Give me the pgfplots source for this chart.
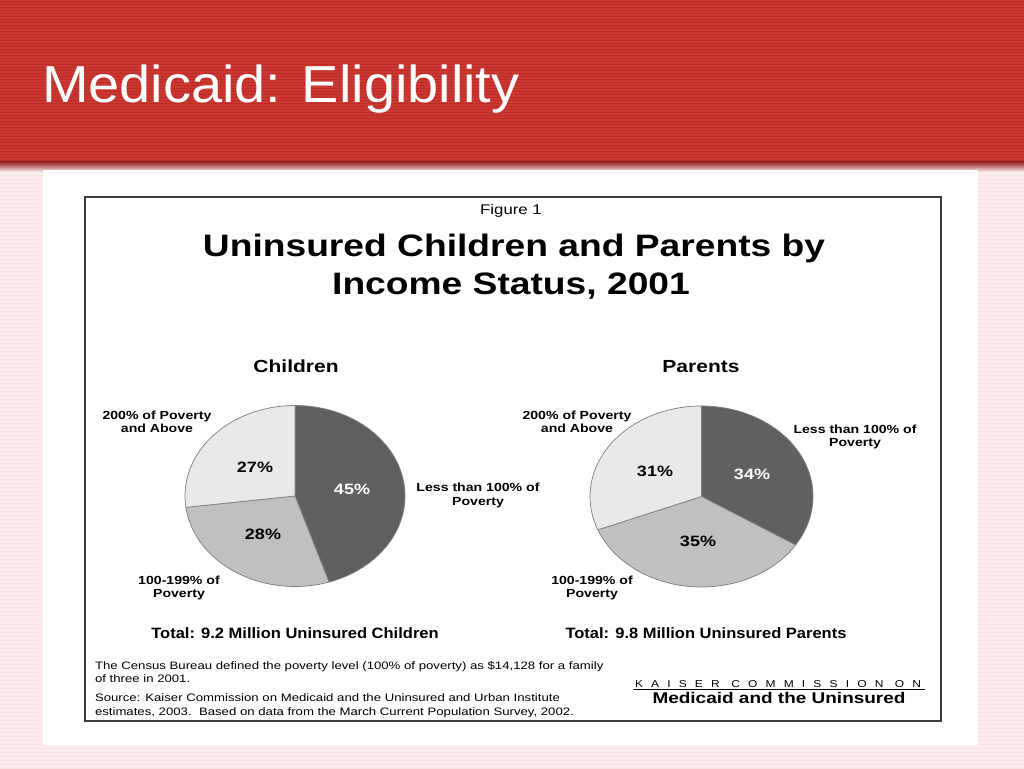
\documentclass[border=0pt]{standalone}
\usepackage{fontspec}
\setmainfont{Liberation Sans}
\usepackage{pgfplots}
\usepackage{pgfplotstable}
\pgfplotsset{compat=1.18}

\definecolor{hdr}{RGB}{203,56,50}
\definecolor{hdrline}{RGB}{188,45,40}
\definecolor{bgpink}{RGB}{252,236,236}
\definecolor{bgline}{RGB}{248,226,226}
\definecolor{piedark}{RGB}{96,96,96}
\definecolor{piemid}{RGB}{192,192,192}
\definecolor{pielight}{RGB}{233,233,233}
\definecolor{pieedge}{RGB}{125,125,125}
\definecolor{boxline}{RGB}{60,60,60}

% shares (percent), clockwise from 12 o'clock
\pgfplotstableread{
group share
Less 45
Mid 28
High 27
}\childdata
\pgfplotstableread{
group share
Less 34
Mid 35
High 31
}\parentdata

\newcommand\buildpie[4]{% #1 table, #2 output macro, #3 x radius, #4 y radius
  \gdef\cum{0}\gdef#2{}%
  \pgfplotstableforeachcolumnelement{share}\of#1\as\val{%
    \pgfmathsetmacro\sa{90-3.6*\cum}%
    \pgfmathsetmacro\ea{90-3.6*(\cum+\val)}%
    \pgfmathsetmacro\sx{cos(\sa)}\pgfmathsetmacro\sy{sin(\sa)}%
    \ifcase\pgfplotstablerow\relax \def\col{piedark}\or\def\col{piemid}\else\def\col{pielight}\fi
    \xdef#2{\unexpanded\expandafter{#2}\noexpand\filldraw[fill=\col,draw=pieedge,line width=0.7pt,line join=round] (axis cs:0,0) -- (axis cs:\sx,\sy) arc[start angle=\sa,end angle=\ea,x radius=#3,y radius=#4] -- cycle;}%
    \pgfmathsetmacro\nc{\cum+\val}\xdef\cum{\nc}%
  }%
}

\tikzset{t/.style={anchor=base,inner sep=0pt,outer sep=0pt,xscale=1.2},
         tl/.style={t,anchor=base west}}

\begin{document}
\buildpie{\childdata}{\childpie}{110pt}{90.5pt}%
\buildpie{\parentdata}{\parentpie}{111.5pt}{90.5pt}%
\begin{tikzpicture}[x=1pt,y=1pt]
\useasboundingbox (0,0) rectangle (1024,768);
% background
\fill[bgpink] (0,0) rectangle (1024,768);
\foreach \i in {0,4,...,600} \draw[bgline,line width=1pt] (0,\i) -- (1024,\i);
% header
\fill[hdr] (0,605) rectangle (1024,768);
\foreach \i in {607,610,...,767} \draw[hdrline,line width=1pt] (0,\i) -- (1024,\i);
\shade[top color=hdr!75!black,bottom color=bgpink] (0,596) rectangle (1024,606);
\node[tl,xscale=0.896,text=white,font=\fontsize{52}{60}\selectfont] at (42,665) {Medicaid: Eligibility};
% white panel
\fill[white] (43,23) rectangle (978,598);
% figure box
\draw[boxline,line width=1.5pt] (85,47) rectangle (941,571);

% titles
\node[t,font=\fontsize{14}{16}\selectfont] at (511,553) {Figure 1};
\node[t,font=\bfseries\fontsize{31}{36}\selectfont] at (514,511) {Uninsured Children and Parents by};
\node[t,font=\bfseries\fontsize{31}{36}\selectfont] at (511,473) {Income Status, 2001};
\node[t,font=\bfseries\fontsize{17.5}{20}\selectfont] at (296,395) {Children};
\node[t,font=\bfseries\fontsize{17.5}{20}\selectfont] at (701,395) {Parents};

% pies
\begin{axis}[at={(295pt,272pt)},anchor=origin,scale only axis,width=220pt,height=181pt,
  xmin=-1,xmax=1,ymin=-1,ymax=1,hide axis,clip=false]
\childpie
\end{axis}
\begin{axis}[at={(701.5pt,271.5pt)},anchor=origin,scale only axis,width=223pt,height=181pt,
  xmin=-1,xmax=1,ymin=-1,ymax=1,hide axis,clip=false]
\parentpie
\end{axis}

% percentage labels
\begin{scope}[every node/.style={t,font=\bfseries\fontsize{15}{18}\selectfont}]
\node at (255,295) {27\%};
\node[text=white] at (352,273) {45\%};
\node at (263,228) {28\%};
\node at (655,291) {31\%};
\node[text=white] at (752,288) {34\%};
\node at (698,221) {35\%};
\end{scope}

% category labels
\begin{scope}[every node/.style={t,font=\bfseries\fontsize{11.75}{14}\selectfont}]
\node at (157,348) {200\% of Poverty};
\node at (157,335) {and Above};
\node at (478,276) {Less than 100\% of};
\node at (478,262) {Poverty};
\node at (179,183) {100-199\% of};
\node at (179,170) {Poverty};
\node at (577,348) {200\% of Poverty};
\node at (577,335) {and Above};
\node at (855,334) {Less than 100\% of};
\node at (855,321) {Poverty};
\node at (592,183) {100-199\% of};
\node at (592,170) {Poverty};
\end{scope}

\node[t,xscale=0.917,font=\bfseries\fontsize{15}{18}\selectfont] at (295,130) {Total: 9.2 Million Uninsured Children};
\node[t,xscale=0.917,font=\bfseries\fontsize{15}{18}\selectfont] at (706,130) {Total: 9.8 Million Uninsured Parents};

% footnotes
\begin{scope}[every node/.style={tl,xscale=1.017,font=\fontsize{10.8}{13}\selectfont}]
\node at (95,99) {The Census Bureau defined the poverty level (100\% of poverty) as \$14,128 for a family};
\node at (95,86) {of three in 2001.};
\node at (95,67) {Source: Kaiser Commission on Medicaid and the Uninsured and Urban Institute};
\node at (95,53) {estimates, 2003.\ \ Based on data from the March Current Population Survey, 2002.};
\end{scope}
\node[tl,font=\fontsize{10}{12}\selectfont\addfontfeature{LetterSpace=68}] at (635,81) {KAISER COMMISSION ON};
\draw[black,line width=0.8pt] (633,78.5) -- (925,78.5);
\node[t,xscale=1.02,font=\bfseries\fontsize{15.5}{18}\selectfont] at (779,65) {Medicaid and the Uninsured};
\end{tikzpicture}
\end{document}
